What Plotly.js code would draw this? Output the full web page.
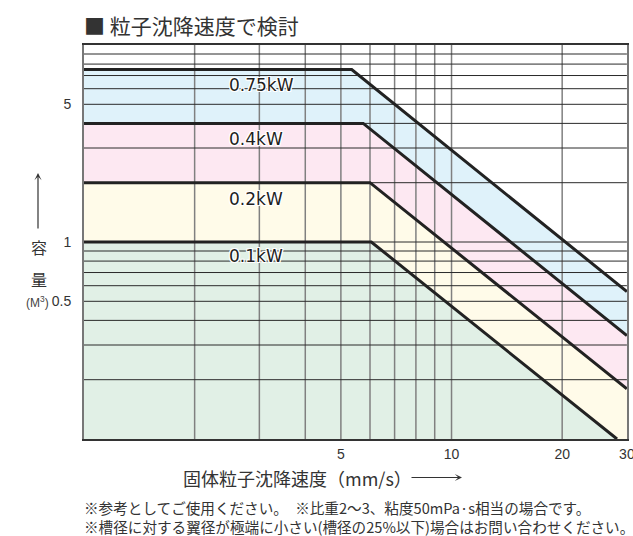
<!DOCTYPE html>
<html>
<head>
<meta charset="utf-8">
<script src="https://cdn.plot.ly/plotly-3.0.1.min.js"></script>
<style>html,body{margin:0;padding:0;background:#fff;}#chart{width:633px;height:536px;}</style>
</head>
<body>
<div id="chart"></div>
<script>
// ---- data ----
const seriesLabels = ['0.75kW', '0.4kW', '0.2kW', '0.1kW'];
const speed075 = [1, 5.35, 30];
const cap075   = [7.5, 7.5, 0.56];
const speed04  = [1, 5.75, 30];
const cap04    = [4.0, 4.0, 0.335];
const speed02  = [1, 6.0, 30];
const cap02    = [2.0, 2.0, 0.18];
const speed01  = [1, 6.05, 28.2];
const cap01    = [1.0, 1.0, 0.1];
const xTickVals = [5, 10, 20, 30];
const xTickText = ['5', '10', '20', '30'];
const yTickVals = [0.5, 1, 5];
const yTickText = ['0.5', '1', '5'];
const xGridVals = [2, 3, 4, 5, 6, 7, 8, 9, 10, 20];
const yGridVals = [0.2, 0.3, 0.4, 0.5, 0.6, 0.7, 0.8, 0.9, 1, 2, 3, 4, 5, 6, 7, 8, 9];
const xRange = [1, 30];
const yRange = [0.1, 10];

const fillColors = ['#dff2fa', '#fde8f2', '#fffbe9', '#e1f0e6'];
const speeds = [speed075, speed04, speed02, speed01];
const caps = [cap075, cap04, cap02, cap01];

const traces = [];
// filled regions (largest first, each down to the bottom of the range)
speeds.forEach((sx, i) => {
  traces.push({
    x: sx.concat([xRange[1], xRange[0]]),
    y: caps[i].concat([yRange[0], yRange[0]]),
    type: 'scatter', mode: 'lines', fill: 'toself',
    fillcolor: fillColors[i], line: {width: 0}, hoverinfo: 'skip', showlegend: false
  });
});
// grid lines drawn above the fills
const gvx = [], gvy = [];
xGridVals.forEach(g => { gvx.push(g, g, null); gvy.push(yRange[0], yRange[1], null); });
traces.push({x: gvx, y: gvy, type: 'scatter', mode: 'lines',
  line: {color: '#808080', width: 1.5}, hoverinfo: 'skip', showlegend: false});
const ghx = [], ghy = [];
yGridVals.forEach(g => { ghx.push(xRange[0], xRange[1], null); ghy.push(g, g, null); });
traces.push({x: ghx, y: ghy, type: 'scatter', mode: 'lines',
  line: {color: '#2a2a2a', width: 1}, hoverinfo: 'skip', showlegend: false});
// boundary curves
speeds.forEach((sx, i) => {
  traces.push({x: sx, y: caps[i], type: 'scatter', mode: 'lines', name: seriesLabels[i],
    line: {color: '#222', width: 3}, showlegend: false});
});

const L = 84, R = 627, T = 45, B = 439;
const px = v => (v - L) / (R - L);
const py = v => (B - v) / (B - T);
const halo = '1px 1px 0 #fff, -1px -1px 0 #fff, 1px -1px 0 #fff, -1px 1px 0 #fff, 0 1px 0 #fff, 1px 0 0 #fff, 0 -1px 0 #fff, -1px 0 0 #fff';
const cjk = 'Noto Sans CJK JP, sans-serif';
const labelY = [85, 139, 199, 256];

const annotations = seriesLabels.map((t, i) => ({
  text: t, xref: 'paper', yref: 'paper', x: px(227), y: py(labelY[i]),
  xanchor: 'left', yanchor: 'middle', showarrow: false,
  font: {family: 'DejaVu Sans, sans-serif', size: 17, color: '#1e1e1e', shadow: halo}
}));
annotations.push(
  {text: '', xref: 'paper', yref: 'paper', x: px(38), y: py(173), ax: 0, ay: 57,
   showarrow: true, arrowhead: 3, arrowsize: 1, arrowwidth: 1.2, arrowcolor: '#333'},
  {text: '容', xref: 'paper', yref: 'paper', x: px(39), y: py(247), showarrow: false,
   xanchor: 'center', yanchor: 'middle', font: {family: cjk, size: 16, color: '#333'}},
  {text: '量', xref: 'paper', yref: 'paper', x: px(39), y: py(279), showarrow: false,
   xanchor: 'center', yanchor: 'middle', font: {family: cjk, size: 16, color: '#333'}},
  {text: '(M<sup>3</sup>)', xref: 'paper', yref: 'paper', x: px(37.5), y: py(302), showarrow: false,
   xanchor: 'center', yanchor: 'middle', font: {family: 'Liberation Sans, Arial, sans-serif', size: 12, color: '#444'}},
  {text: '固体粒子沈降速度（mm/s）', xref: 'paper', yref: 'paper', x: px(181), y: py(478), showarrow: false,
   xanchor: 'left', yanchor: 'middle', font: {family: cjk, size: 18, color: '#333'}},
  {text: '', xref: 'paper', yref: 'paper', x: px(462), y: py(477.5), ax: -52, ay: 0,
   showarrow: true, arrowhead: 3, arrowsize: 1, arrowwidth: 1.2, arrowcolor: '#333'},
  {text: '※参考としてご使用ください。　※比重2〜3、粘度50mPa·s相当の場合です。', xref: 'paper', yref: 'paper',
   x: px(83), y: py(507), showarrow: false, xanchor: 'left', yanchor: 'middle', borderpad: 0,
   font: {family: cjk, size: 14.6, color: '#333'}},
  {text: '※槽径に対する翼径が極端に小さい(槽径の25%以下)場合はお問い合わせください。', xref: 'paper', yref: 'paper',
   x: px(83), y: py(526), showarrow: false, xanchor: 'left', yanchor: 'middle', borderpad: 0,
   font: {family: cjk, size: 14.6, color: '#333'}}
);

const layout = {
  width: 633, height: 536,
  margin: {l: L, r: 633 - R, t: T, b: 536 - B, pad: 0},
  paper_bgcolor: '#fff', plot_bgcolor: '#fff',
  font: {family: 'Liberation Sans, Arial, sans-serif', size: 14, color: '#333'},
  title: {text: '■ 粒子沈降速度で検討', xref: 'container', yref: 'container',
    x: 84 / 633, xanchor: 'left', y: 1 - 27 / 536, yanchor: 'middle',
    font: {family: cjk, size: 21, color: '#333'}},
  xaxis: {type: 'log', range: [Math.log10(xRange[0]), Math.log10(xRange[1]) + 0.0003],
    tickvals: xTickVals, ticktext: xTickText, ticks: '', showgrid: false, zeroline: false,
    showline: true, mirror: true, linecolor: '#333', linewidth: 2, ticklabeloverflow: 'allow',
    tickfont: {size: 14, color: '#333'}, ticklabelstandoff: 1, fixedrange: true},
  yaxis: {type: 'log', range: [Math.log10(yRange[0]), Math.log10(yRange[1])],
    tickvals: yTickVals, ticktext: yTickText, ticks: '', showgrid: false, zeroline: false,
    showline: true, mirror: true, linecolor: '#777', linewidth: 2,
    tickfont: {size: 14, color: '#333'}, ticklabelstandoff: 8, fixedrange: true},
  annotations: annotations,
  showlegend: false
};

Plotly.newPlot('chart', traces, layout, {displayModeBar: false, staticPlot: true});
</script>
</body>
</html>
